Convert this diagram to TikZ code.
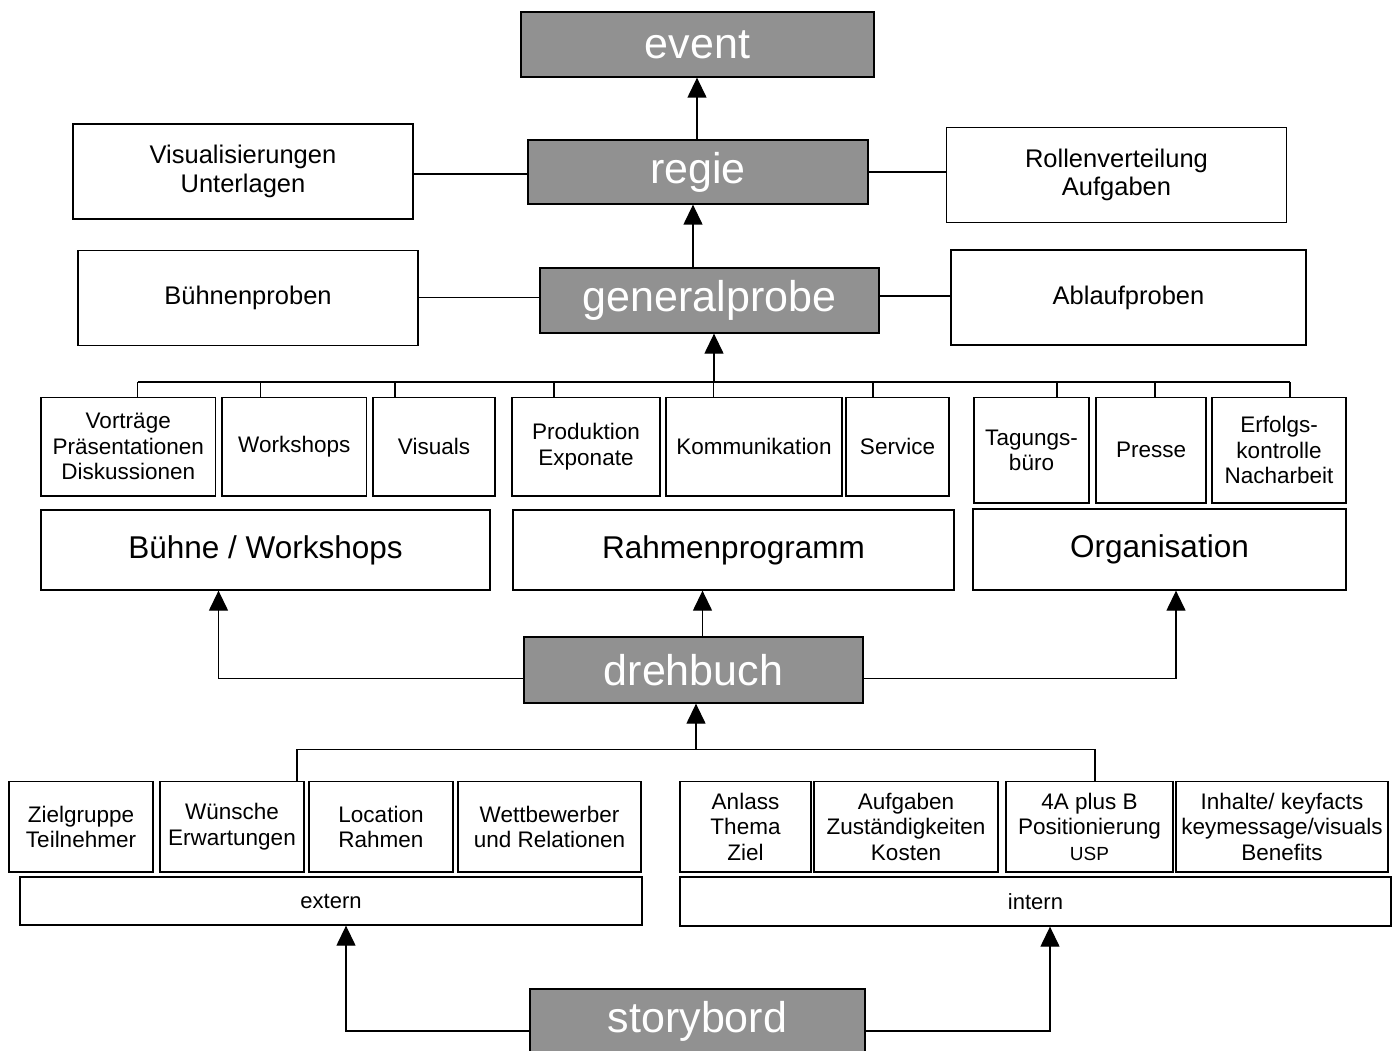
\documentclass[tikz,border=0pt]{standalone}
\usepackage{fontspec}
\setmainfont{Liberation Sans}
\usetikzlibrary{arrows.meta}
\definecolor{boxgray}{RGB}{145,145,145}
\begin{document}
\begin{tikzpicture}[x=1pt,y=-1pt,
  box/.style={draw=black, line width=1.3pt, fill=white, inner sep=0pt, align=center,
    font=\fontsize{22.5}{25.5}\selectfont},
  sidebox/.style={box, font=\fontsize{25.5}{28.5}\selectfont},
  midbox/.style={box, font=\fontsize{31.5}{35}\selectfont},
  basebox/.style={box, font=\fontsize{22}{25}\selectfont},
  gbox/.style={box, fill=boxgray, text=white, font=\fontsize{43}{48}\selectfont},
  conn/.style={draw=black, line width=1.3pt},
  arr/.style={conn, -{Triangle[length=20pt,width=19pt]}}]
\clip (0,0) rectangle (1400,1051);
\fill[white] (0,0) rectangle (1400,1051);

% main gray boxes
\node[gbox, minimum width=353pt, minimum height=65pt] (event) at (697.5,44.5) {event};
\node[gbox, minimum width=340pt, minimum height=64pt] (regie) at (698,172) {regie};
\node[gbox, minimum width=339pt, minimum height=65pt] (gen) at (709.5,300.5) {generalprobe};
\node[gbox, minimum width=339pt, minimum height=66pt] (dreh) at (693.5,670) {drehbuch};
\node[gbox, minimum width=335pt, minimum height=65pt] (story) at (697.5,1021.5) {storybord};

% side boxes
\node[sidebox, minimum width=340pt, minimum height=95pt] (visu) at (243,171.5) {Visualisierungen\\Unterlagen};
\node[sidebox, minimum width=340pt, minimum height=95pt] (rollen) at (1116.5,175) {Rollenverteilung\\Aufgaben};
\node[sidebox, minimum width=340pt, minimum height=95pt] (buehnenp) at (248,298) {Bühnenproben};
\node[sidebox, minimum width=355pt, minimum height=95pt] (ablauf) at (1128.5,297.5) {Ablaufproben};

% row A
\node[box, minimum width=174.5pt, minimum height=98.5pt] (vor) at (128.25,446.75) {Vorträge\\Präsentationen\\Diskussionen};
\node[box, minimum width=144.5pt, minimum height=98.5pt] (ws) at (294.25,446.75) {Workshops};
\node[box, minimum width=122pt, minimum height=98.5pt] (vis) at (434,446.75) {Visuals};
\node[box, minimum width=148pt, minimum height=98.5pt] (prod) at (586,446.75) {Produktion\\Exponate};
\node[box, minimum width=176pt, minimum height=98.5pt] (komm) at (754,446.75) {Kommunikation};
\node[box, minimum width=103pt, minimum height=98.5pt] (serv) at (897.5,446.75) {Service};
\node[box, minimum width=115pt, minimum height=105.5pt] (tag) at (1031.5,450.25) {Tagungs-\\büro};
\node[box, minimum width=110pt, minimum height=105.5pt] (pres) at (1151,450.25) {Presse};
\node[box, minimum width=134pt, minimum height=105.5pt] (erf) at (1279,450.25) {Erfolgs-\\kontrolle\\Nacharbeit};

% row B
\node[midbox, minimum width=449pt, minimum height=80pt] (buehne) at (265.5,550) {Bühne / Workshops};
\node[midbox, minimum width=441pt, minimum height=80pt] (rahmen) at (733.5,550) {Rahmenprogramm};
\node[midbox, minimum width=373pt, minimum height=81pt] (orga) at (1159.5,549.5) {Organisation};

% row C
\node[box, minimum width=144pt, minimum height=90.5pt] (ziel) at (81,826.75) {Zielgruppe\\Teilnehmer};
\node[box, minimum width=144pt, minimum height=90.5pt] (wuen) at (232,826.75) {Wünsche\\Erwartungen};
\node[box, minimum width=144pt, minimum height=90.5pt] (loc) at (381,826.75) {Location\\Rahmen};
\node[box, minimum width=183pt, minimum height=90.5pt] (wett) at (549.5,826.75) {Wettbewerber\\und Relationen};
\node[box, minimum width=131pt, minimum height=90.5pt] (anl) at (745.5,826.75) {Anlass\\Thema\\Ziel};
\node[box, minimum width=184pt, minimum height=90.5pt] (aufg) at (906,826.75) {Aufgaben\\Zuständigkeiten\\Kosten};
\node[box, minimum width=167pt, minimum height=90.5pt] (vier) at (1089.5,826.75) {4A plus B\\Positionierung\\{\fontsize{19}{25.5}\selectfont USP}};
\node[box, minimum width=212pt, minimum height=90.5pt] (inh) at (1282,826.75) {Inhalte/ keyfacts\\keymessage/visuals\\Benefits};
\node[basebox, minimum width=622pt, minimum height=48pt] (extern) at (331,901) {extern};
\node[basebox, minimum width=711pt, minimum height=49pt] (intern) at (1035.5,901.5) {intern};

% top connectors
\draw[arr] (regie.north -| event.south) ++(-0.5,0) coordinate (re) -- (re |- event.south);
\draw[arr] ([xshift=-16.5pt]gen.north) -- ([xshift=-16.5pt]gen.north |- regie.south);
\draw[conn] ([yshift=-2pt]regie.west) -- ([yshift=-2pt]regie.west -| visu.east);
\draw[conn] (regie.east) -- (regie.east -| rollen.west);
\draw[conn] ([yshift=3pt]gen.west) -- ([yshift=3pt]gen.west -| buehnenp.east);
\draw[conn] ([yshift=4.5pt]gen.east) -- ([yshift=4.5pt]gen.east -| ablauf.west);

% upper bracket
\coordinate (bl) at (137.5,382);
\coordinate (br) at (1290,382);
\coordinate (barr) at (714,382);
\draw[conn] (bl) -- (br);
\draw[arr] (barr) -- (barr |- gen.south);
\foreach \xx/\nd in {137.5/vor,260.5/ws,395/vis,554/prod,713.5/komm,873/serv,1057/tag,1155/pres,1290/erf}{
  \coordinate (tk) at (\xx,382);
  \draw[conn] (tk) -- (tk |- \nd.north);
}

% drehbuch connectors
\draw[arr] ([yshift=-8.7pt]dreh.west) -| ([xshift=-47pt]buehne.south);
\draw[arr] ([yshift=-8.7pt]dreh.east) -| ([xshift=16.5pt]orga.south);
\draw[arr] ([xshift=9pt]dreh.north) -- ([xshift=9pt]dreh.north |- rahmen.south);

% lower bracket
\coordinate (lbl) at (297,749.5);
\coordinate (lbr) at (1095,749.5);
\coordinate (larr) at (696,749.5);
\draw[conn] (lbl |- wuen.north) -- (lbl) -- (lbr) -- (lbr |- vier.north);
\draw[arr] (larr) -- (larr |- dreh.south);

% storybord connectors
\draw[arr] ([yshift=-9.5pt]story.west) -| ([xshift=15pt]extern.south);
\draw[arr] ([yshift=-9.5pt]story.east) -| ([xshift=14.5pt]intern.south);
\end{tikzpicture}
\end{document}
